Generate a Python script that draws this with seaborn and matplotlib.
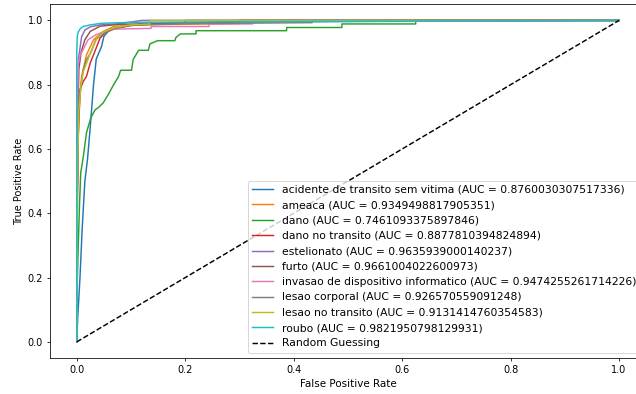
import matplotlib
matplotlib.use("agg")
import matplotlib.pyplot as plt
import seaborn as sns
import pandas as pd

# class names and AUC labels as shown in the legend
classes = [
    "acidente de transito sem vitima",
    "ameaca",
    "dano",
    "dano no transito",
    "estelionato",
    "furto",
    "invasao de dispositivo informatico",
    "lesao corporal",
    "lesao no transito",
    "roubo",
]
aucs = [
    "0.8760030307517336",
    "0.9349498817905351",
    "0.7461093375897846",
    "0.8877810394824894",
    "0.9635939000140237",
    "0.9661004022600973",
    "0.9474255261714226",
    "0.926570559091248",
    "0.9131414760354583",
    "0.9821950798129931",
]

# ROC curve points
fpr_acidente = [0, 0.002, 0.006, 0.01, 0.015, 0.02, 0.025, 0.031, 0.036, 0.046, 0.05, 0.06, 0.08, 0.12, 0.3, 1.0]
tpr_acidente = [0, 0.08, 0.2, 0.35, 0.5, 0.57, 0.67, 0.8, 0.88, 0.92, 0.95, 0.97, 0.98, 0.99, 0.995, 1.0]

fpr_ameaca = [0, 0.001, 0.003, 0.006, 0.009, 0.018, 0.031, 0.049, 0.068, 0.1, 0.3, 0.3, 1.0]
tpr_ameaca = [0, 0.45, 0.65, 0.764, 0.826, 0.893, 0.94, 0.966, 0.981, 0.986, 0.99, 1.0, 1.0]

fpr_dano = [0, 0.0, 0.002, 0.005, 0.0074, 0.0122, 0.018, 0.026, 0.034, 0.040, 0.049, 0.058, 0.068,
            0.077, 0.081, 0.101, 0.104, 0.114, 0.132, 0.135, 0.149, 0.181, 0.183, 0.191, 0.220,
            0.220, 0.387, 0.387, 0.489, 0.489, 0.625, 0.625, 1.0]
tpr_dano = [0, 0.12, 0.25, 0.42, 0.526, 0.577, 0.651, 0.697, 0.722, 0.729, 0.744, 0.769, 0.800,
            0.825, 0.845, 0.845, 0.878, 0.907, 0.907, 0.927, 0.937, 0.937, 0.947, 0.958, 0.958,
            0.968, 0.968, 0.978, 0.978, 0.989, 0.989, 1.0, 1.0]

fpr_dano_transito = [0, 0.001, 0.003, 0.006, 0.012, 0.018, 0.025, 0.031, 0.043, 0.052, 0.065, 0.074, 0.1, 0.15, 0.3, 0.3, 1.0]
tpr_dano_transito = [0, 0.4, 0.65, 0.785, 0.81, 0.826, 0.868, 0.893, 0.945, 0.961, 0.971, 0.976, 0.984, 0.99, 0.995, 1.0, 1.0]

fpr_estelionato = [0, 0.001, 0.003, 0.006, 0.009, 0.015, 0.025, 0.043, 0.08, 0.12, 1.0]
tpr_estelionato = [0, 0.6, 0.88, 0.913, 0.949, 0.97, 0.98, 0.986, 0.99, 1.0, 1.0]

fpr_furto = [0, 0.001, 0.004, 0.008, 0.015, 0.025, 0.043, 0.08, 0.2, 0.2, 1.0]
tpr_furto = [0, 0.6, 0.85, 0.9, 0.94, 0.966, 0.982, 0.988, 0.991, 1.0, 1.0]

fpr_invasao = [0, 0.001, 0.003, 0.006, 0.012, 0.021, 0.035, 0.05, 0.068, 0.137, 0.137, 0.244, 0.244, 0.324, 0.324, 1.0]
tpr_invasao = [0, 0.7, 0.866, 0.89, 0.91, 0.94, 0.955, 0.965, 0.973, 0.975, 0.981, 0.981, 0.989, 0.989, 0.997, 1.0]

fpr_lesao_corporal = [0, 0.001, 0.003, 0.006, 0.012, 0.018, 0.026, 0.035, 0.05, 0.07, 0.1, 0.2, 0.434, 0.434, 1.0]
tpr_lesao_corporal = [0, 0.45, 0.72, 0.774, 0.847, 0.878, 0.9, 0.94, 0.96, 0.975, 0.985, 0.99, 0.993, 1.0, 1.0]

fpr_lesao_transito = [0, 0.001, 0.004, 0.008, 0.012, 0.02, 0.026, 0.037, 0.05, 0.07, 0.1, 0.135, 0.135, 1.0]
tpr_lesao_transito = [0, 0.5, 0.72, 0.8, 0.84, 0.875, 0.903, 0.944, 0.965, 0.978, 0.986, 0.989, 1.0, 1.0]

fpr_roubo = [0, 0, 0.001, 0.003, 0.007, 0.012, 0.025, 0.045, 0.1, 0.45, 1.0]
tpr_roubo = [0, 0.9, 0.95, 0.965, 0.975, 0.981, 0.986, 0.991, 0.994, 0.997, 1.0]

all_fpr = [fpr_acidente, fpr_ameaca, fpr_dano, fpr_dano_transito, fpr_estelionato,
           fpr_furto, fpr_invasao, fpr_lesao_corporal, fpr_lesao_transito, fpr_roubo]
all_tpr = [tpr_acidente, tpr_ameaca, tpr_dano, tpr_dano_transito, tpr_estelionato,
           tpr_furto, tpr_invasao, tpr_lesao_corporal, tpr_lesao_transito, tpr_roubo]

# long-form table for seaborn
rows = []
labels = []
for name, auc, fpr, tpr in zip(classes, aucs, all_fpr, all_tpr):
    label = f"{name} (AUC = {auc})"
    labels.append(label)
    for x, y in zip(fpr, tpr):
        rows.append({"fpr": x, "tpr": y, "label": label})
df = pd.DataFrame(rows)

fig = plt.figure(figsize=(636 / 70, 394 / 70), dpi=70)
ax = fig.add_axes([0.078, 0.0914, 0.938, 0.8976])

sns.lineplot(
    data=df, x="fpr", y="tpr", hue="label", hue_order=labels,
    palette="tab10", estimator=None, sort=False, ax=ax, linewidth=1.5,
)
ax.plot([0, 1], [0, 1], "k--", label="Random Guessing")

ax.set_xlabel("False Positive Rate", fontsize=10.7)
ax.set_ylabel("True Positive Rate")
ax.legend(loc="lower right", fontsize=11)

fig.savefig("out.png", dpi=70)
